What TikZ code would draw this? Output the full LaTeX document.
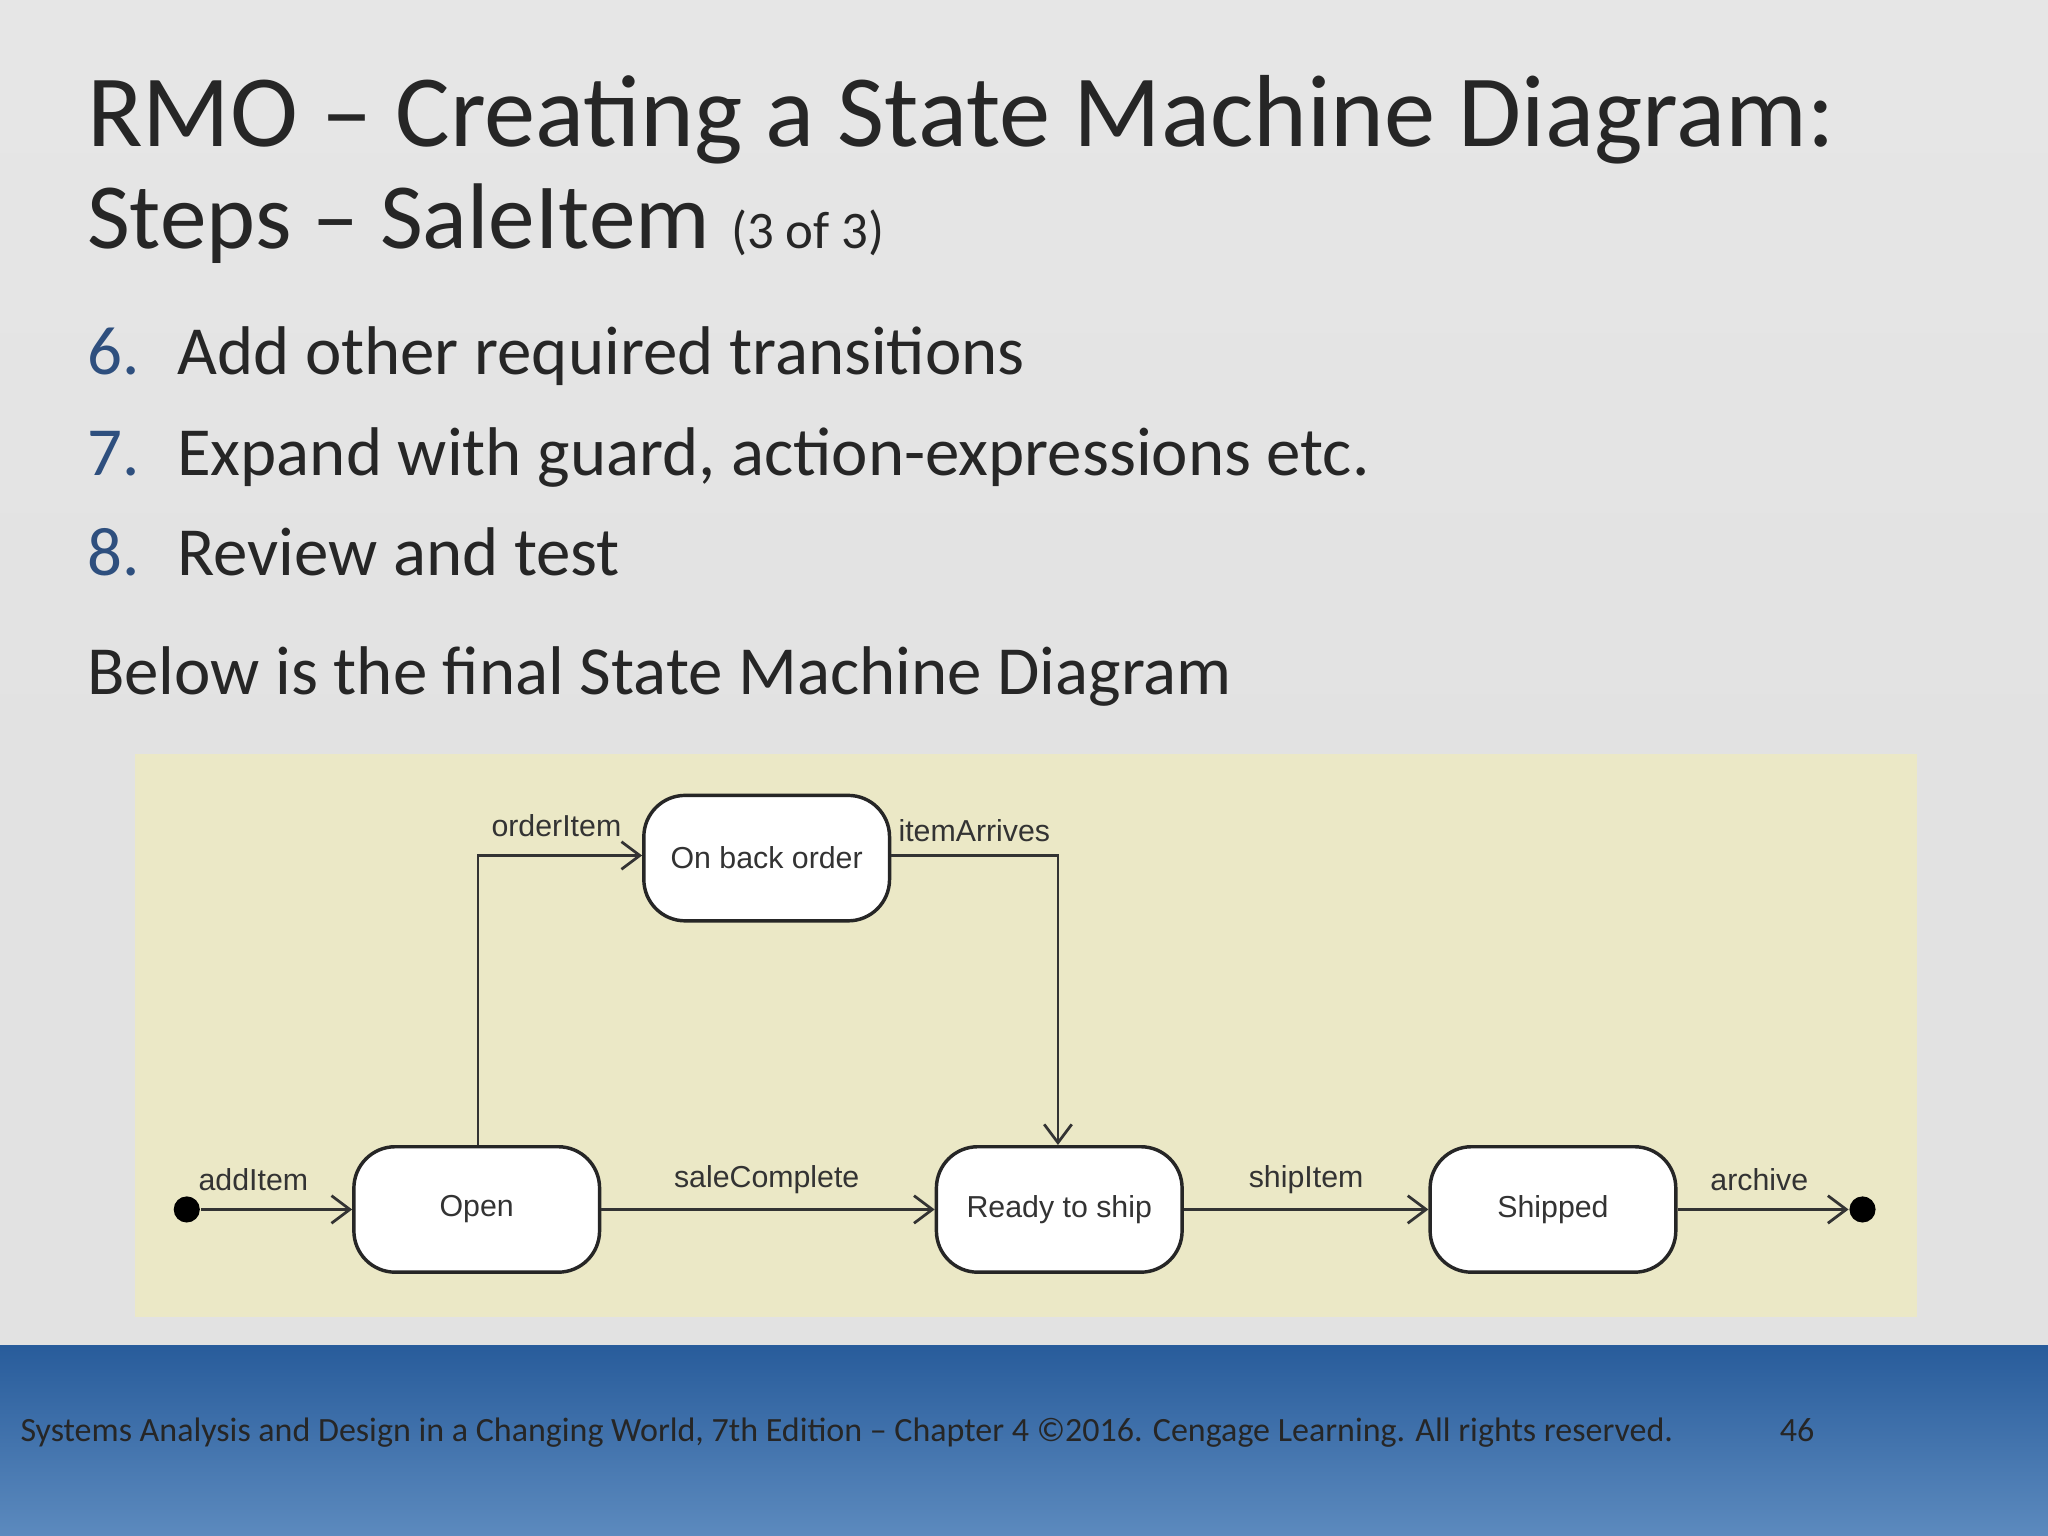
\documentclass[tikz,border=0pt]{standalone}
\usepackage{fontspec}
\setmainfont{Carlito}
\newfontfamily\arialf{Liberation Sans}
\usetikzlibrary{arrows.meta,positioning}
\definecolor{bg}{HTML}{E2E2E2}
\definecolor{diag}{HTML}{EBE8C6}
\definecolor{txt}{HTML}{262626}
\definecolor{num}{HTML}{2E4F7E}
\begin{document}
\begin{tikzpicture}[x=0.01cm,y=-0.01cm,
  st/.style={draw=black!85,line width=0.75pt,rounded corners=9pt,fill=white,minimum width=1.88cm,minimum height=0.96cm,font=\arialf\fontsize{6.6}{8}\selectfont,text=black!80},
  tr/.style={draw=black!80,line width=0.6pt,-{Straight Barb[length=4pt,width=6pt]}},
  lb/.style={font=\arialf\fontsize{6.6}{8}\selectfont,text=black!80},
  dot/.style={circle,fill=black,inner sep=0pt,minimum size=0.2cm}]
\fill[bg] (0,0) rectangle (1568,1176);
\useasboundingbox (0,0) rectangle (1568,1176);
\shade[top color=bg!85!white, bottom color=bg] (0,0) rectangle (1568,600);
% footer
\shade[top color={rgb,255:red,40;green,92;blue,155}, bottom color={rgb,255:red,92;green,138;blue,190}] (0,1030) rectangle (1568,1176);
\node[anchor=base west,inner sep=0pt,text=txt,font=\fontsize{7.4}{9}\selectfont] (foot) at (15,1104) {Systems Analysis and Design in a Changing World, 7th Edition -- Chapter 4 ©2016. Cengage Learning. All rights reserved.};
\node[anchor=base west,inner sep=0pt,text=txt,font=\fontsize{7.4}{9}\selectfont] (pg) at (1362,1104) {46};
% title
\node[anchor=base west,inner sep=0pt,text=txt,font=\fontsize{22.3}{26}\selectfont] (t1) at (66,112) {RMO -- Creating a State Machine Diagram:};
\node[anchor=base west,inner sep=0pt,text=txt] (t2) at (66,190) {\fontsize{20.3}{24}\selectfont Steps -- SaleItem \fontsize{11.5}{14}\selectfont(3 of 3)};
\foreach \n/\t/\y in {6/Add other required transitions/287,7/{Expand with guard, action-expressions etc.}/364,8/Review and test/441}{
  \node[anchor=base west,inner sep=0pt,text=num,font=\fontsize{15}{18}\selectfont] (n\n) at (66,\y) {\n.};
  \node[anchor=base west,inner sep=0pt,text=txt,font=\fontsize{15}{18}\selectfont] (b\n) at (135,\y) {\t};
}
\node[anchor=base west,inner sep=0pt,text=txt,font=\fontsize{15}{18}\selectfont] (below) at (66,532) {Below is the final State Machine Diagram};
% diagram
\fill[diag] (103,577) rectangle (1468,1008);
\node[st] (back) at (587,657) {On back order};
\node[st] (open) at (365,926) {Open};
\node[st] (ready) at (811,926) {Ready to ship};
\node[st] (ship) at (1189,926) {Shipped};
\node[dot] (init) at (143,926) {};
\node[dot] (fin) at (1426,926) {};
\coordinate (c1) at (366,655);
\coordinate (c2) at (810,655);
\draw[tr] (init) -- (open.west);
\draw[tr] (open.north -| c1) -- (c1) -- (back.west |- c1);
\draw[tr] (back.east |- c2) -- (c2) -- (ready.north -| c2);
\draw[tr] (open) -- (ready);
\draw[tr] (ready) -- (ship);
\draw[tr] (ship) -- (fin.west);
\node[lb] (l1) at (194,903) {addItem};
\node[lb] (l2) at (426,632) {orderItem};
\node[lb] (l3) at (746,636) {itemArrives};
\node[lb] (l4) at (587,903) {saleComplete};
\node[lb] (l5) at (1000,903) {shipItem};
\node[lb] (l6) at (1347,903) {archive};
\end{tikzpicture}
\end{document}
